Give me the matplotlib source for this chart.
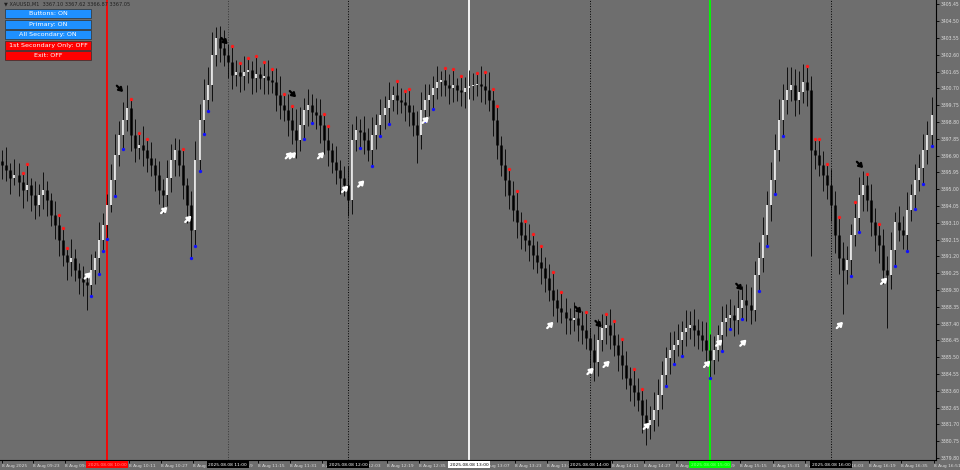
import numpy as np
import matplotlib
matplotlib.use('Agg')
import matplotlib.pyplot as plt
from matplotlib.patches import Rectangle
import matplotlib.transforms as mtransforms

# ---------------- data ----------------
first_open = 3396.6
start_minute = -52          # minutes relative to 10:00 (first bar)
bar_minutes = 2

closes = [
 3396.37, 3396.08, 3395.63, 3395.80, 3395.41, 3394.95, 3395.24, 3394.67, 3394.11, 3394.67,
 3394.95, 3394.39, 3393.54, 3392.97, 3392.13, 3391.28, 3390.88, 3391.11, 3390.43, 3389.98,
 3389.75, 3389.58, 3390.43, 3391.11, 3392.13, 3392.97, 3394.11, 3395.52, 3396.93, 3398.06,
 3398.91, 3399.59, 3398.06, 3397.33, 3397.50, 3397.22, 3396.76, 3396.37, 3395.80, 3394.95,
 3394.67, 3395.63, 3396.65, 3397.22, 3396.37, 3395.24, 3394.11, 3392.69, 3396.65, 3398.91,
 3400.04, 3400.89, 3402.59, 3403.55, 3402.99, 3402.59, 3402.19, 3401.46, 3401.63, 3401.40,
 3401.63, 3401.74, 3401.29, 3401.51, 3401.29, 3401.40, 3401.18, 3401.06, 3400.33, 3399.76,
 3399.48, 3398.91, 3398.35, 3397.78, 3398.63, 3399.48, 3399.76, 3399.37, 3399.20, 3398.63,
 3397.78, 3397.22, 3396.54, 3396.08, 3395.63, 3395.24, 3394.39, 3397.78, 3398.35, 3398.23,
 3397.78, 3397.22, 3398.06, 3398.63, 3399.20, 3399.59, 3400.04, 3400.33, 3400.04, 3399.93,
 3399.76, 3399.37, 3398.63, 3398.06, 3399.48, 3400.04, 3400.33, 3400.72, 3401.06, 3401.18,
 3400.89, 3400.72, 3400.89, 3400.61, 3400.50, 3400.72, 3400.84, 3400.89, 3400.95, 3400.84,
 3400.61, 3400.04, 3398.91, 3397.50, 3396.37, 3395.52, 3394.67, 3393.82, 3393.14, 3392.41,
 3392.13, 3391.84, 3391.28, 3390.88, 3390.54, 3389.98, 3389.30, 3388.73, 3388.28, 3388.05,
 3387.71, 3387.60, 3387.71, 3387.32, 3387.04, 3386.58, 3385.90, 3385.23, 3386.47, 3387.15,
 3387.32, 3386.75, 3386.19, 3385.62, 3385.06, 3384.32, 3383.92, 3383.53, 3383.08, 3382.23,
 3381.66, 3381.94, 3382.51, 3383.36, 3384.49, 3385.45, 3385.90, 3386.19, 3386.47, 3386.92,
 3387.15, 3387.32, 3387.04, 3386.75, 3386.47, 3385.90, 3385.34, 3385.90, 3386.75, 3387.49,
 3387.71, 3387.88, 3387.60, 3388.28, 3388.73, 3388.45, 3388.17, 3390.15, 3391.11, 3392.41,
 3394.11, 3395.52, 3397.22, 3398.91, 3400.04, 3400.61, 3400.89, 3400.04, 3400.50, 3401.06,
 3400.61, 3397.22, 3396.93, 3396.37, 3395.80, 3395.24, 3394.11, 3392.41, 3391.11, 3390.43,
 3390.99, 3392.41, 3393.37, 3394.67, 3395.24, 3394.39, 3393.14, 3392.41, 3391.84, 3390.43,
 3390.15, 3391.56, 3393.14, 3392.69, 3392.41, 3393.82, 3394.67, 3395.52, 3396.20, 3397.22,
 3398.06, 3399.20,
]

upper_wick = [
 .6, 1.0, .4, .9, .7, .5, 1.2, .4, .8, .6,  1.0, .5, .4, .8, .6, .7, .4, 1.1, .5, .4,
 .7, .5, .9, .4, 1.0, .7, .6, .9, 1.2, .8,  1.0, 1.3, .5, .9, .7, 1.1, .6, .9, .4, .8,
 .6, 1.0, .9, .7, .6, .9, .4, .8, 1.1, .9,  1.2, 1.0, 1.3, .6, .7, 1.0, .6, .9, .7, .5,
 .9, .7, .5, 1.0, .4, .8, .9, .6, .8, 1.1,  .6, .9, .8, 1.2, 1.0, .7, .9, .6, .8, .9,
 .6, .8, .4, .9, .6, .7, 1.1, .9, .8, .6,  .9, .7, 1.0, .6, .9, .7, 1.0, .5, .8, .7,
 .6, .9, .4, .8, 1.0, .9, .6, .7, .9, .5,  .7, .6, .9, .4, .8, .6, .9, .7, .6, 1.0,
 .8, 1.0, .6, .8, .5, .9, .6, .8, 1.1, .6,  .8, .9, .6, .8, .9, .6, .8, 1.0, .6, .9,
 .8, .6, .9, .5, .8, 1.0, .6, .9, 1.2, .8,  .6, .9, .8, .6, .9, .8, .6, .9, .8, .6,
 .9, .8, 1.0, .9, .8, .6, 1.0, .8, .9, .6,  1.0, .8, .9, .6, .8, 1.0, .9, .8, .6, .9,
 .8, .9, .6, 1.0, .8, .9, 1.0, .8, .9, 1.0,  .8, 1.0, .9, 1.2, .9, 1.3, 1.0, .9, 1.2, 1.0,
 .9, .8, .6, .9, .8, .6, .9, .8, 1.0, .9,  .8, .6, .9, 1.0, .8, .6, .9, .8, .6, .9,
 .8, 1.0, .6, .9, .8, 1.0, .6, .9, .8, .9,  .8, 1.0,
]

lower_wick = [
 .8, .6, .9, .4, .8, 1.0, .6, .9, .8, .6,  .8, .9, .6, .8, .9, .6, 1.0, .8, .6, .9,
 .8, 1.4, .6, .8, .9, .6, .8, .4, .9, .6,  .8, .6, .9, .8, .6, .9, .8, .6, .9, .8,
 1.0, .6, .8, .9, .6, .8, 1.0, 1.6, .9, .6, .8, .6, .9, .6, .8, .6, .9, .8, .6, .9,
 .8, .6, .9, .8, .6, .9, .8, .6, .9, .8,  .6, .9, .8, 1.0, .6, .8, .9, .6, .8, 1.0,
 .8, .9, .6, .8, .9, .6, .9, .8, .6, .9,  .8, .6, .9, .8, .6, .8, .9, .6, .8, .6,
 .9, .8, .6, 1.6, .8, .6, .9, .8, .6, .8,  .6, .9, .8, .6, .8, .9, .6, .8, .6, .9,
 .8, .6, .9, .8, .6, .9, .8, .6, .9, .8,  .6, .9, .8, .6, .9, .8, .6, .9, .8, .6,
 .9, .8, .6, .9, .8, .6, 1.0, 1.1, .8, .6,  .9, .8, .6, .9, .8, .6, .9, .8, .6, 1.0,
 1.1, .8, .6, .9, .8, .6, .9, .8, .6, .9,  .8, .6, .9, .8, .6, .9, 1.0, .8, .6, .9,
 .8, .6, .9, .8, .6, .9, .8, .6, .9, .8,  .6, .9, .8, .6, .9, .8, .6, .9, .8, .6,
 .9, 6.0, .8, .6, .9, .8, .9, 1.0, .9, 2.5, .8, .9, .6, .8, .9, .6, .8, .9, 1.0, .8,
 3.0, .8, .9, .6, .8, .9, .6, .8, .6, .9,  .8, .6,
]

red_dot_bars = [5, 6, 14, 15, 16, 32, 34, 36, 45, 57, 59, 61, 63, 65, 67, 70, 72, 80, 81,
                98, 100, 101, 110, 112, 114, 118, 120, 122, 123, 126, 128, 130, 132, 134,
                137, 139, 143, 145, 150, 152, 154, 157, 159, 200, 202, 203, 205, 208, 212,
                215, 218]
blue_dot_bars = [22, 24, 25, 26, 28, 30, 47, 48, 49, 50, 51, 75, 77, 89, 92, 94, 96, 105,
                 107, 165, 167, 169, 176, 179, 181, 184, 188, 190, 192, 194, 211, 213, 222,
                 225, 227, 229, 231]

up_arrow_bars = [22, 41, 47, 72, 73, 80, 86, 90, 106, 137, 147, 151, 161, 176, 179, 185, 209, 220]
up_arrow_price = [3390.3, 3394.0, 3393.5, 3397.1, 3397.1, 3397.1, 3395.2, 3395.5, 3399.1,
                  3387.5, 3384.9, 3385.3, 3381.8, 3385.3, 3386.5, 3386.5, 3387.5, 3390.0]
down_arrow_bars = [30, 56, 73, 144, 149, 184, 214]
down_arrow_price = [3400.5, 3403.2, 3400.2, 3388.0, 3387.2, 3389.3, 3396.2]

price_ticks = [3379.80, 3380.75, 3381.70, 3382.65, 3383.60, 3384.55, 3385.50, 3386.45,
               3387.40, 3388.35, 3389.30, 3390.25, 3391.20, 3392.15, 3393.10, 3394.05,
               3395.00, 3395.95, 3396.90, 3397.85, 3398.80, 3399.75, 3400.70, 3401.65,
               3402.60, 3403.55, 3404.50, 3405.45]

time_tick_minutes = [-52, -37, -21, -5, 11, 27, 43, 59, 75, 91, 107, 123, 139, 155, 171,
                     187, 203, 219, 235, 251, 267, 283, 299, 315, 331, 347, 363, 379, 395, 411]
time_tick_labels = ['8 Aug 2025', '8 Aug 09:23', '8 Aug 09:39', '8 Aug 09:55', '8 Aug 10:11',
                    '8 Aug 10:27', '8 Aug 10:43', '8 Aug 10:59', '8 Aug 11:15', '8 Aug 11:31',
                    '8 Aug 11:47', '8 Aug 12:03', '8 Aug 12:19', '8 Aug 12:35', '8 Aug 12:51',
                    '8 Aug 13:07', '8 Aug 13:23', '8 Aug 13:39', '8 Aug 13:55', '8 Aug 14:11',
                    '8 Aug 14:27', '8 Aug 14:43', '8 Aug 14:59', '8 Aug 15:15', '8 Aug 15:31',
                    '8 Aug 15:47', '8 Aug 16:03', '8 Aug 16:19', '8 Aug 16:35', '8 Aug 16:51']

hour_minutes = [0, 60, 120, 180, 240, 300, 360]
hour_labels = ['2025.08.08 10:00', '2025.08.08 11:00', '2025.08.08 12:00', '2025.08.08 13:00',
               '2025.08.08 14:00', '2025.08.08 15:00', '2025.08.08 16:00']
hour_line_colors = ['#ff0000', '#3a3a3a', '#000000', '#ffffff', '#000000', '#00ff00', '#000000']
hour_line_styles = ['-', ':', ':', '-', ':', '-', ':']
hour_box_colors = ['#ff0000', '#000000', '#000000', '#ffffff', '#000000', '#00ff00', '#000000']
hour_text_colors = ['#ff9090', '#ffffff', '#ffffff', '#000000', '#ffffff', '#90ff90', '#ffffff']

buttons = ['Buttons: ON', 'Primary: ON', 'All Secondary: ON', '1st Secondary Only: OFF', 'Exit: OFF']
button_colors = ['#1e90ff', '#1e90ff', '#1e90ff', '#ff0000', '#ff0000']

header = '\u25bc XAUUSD,M1  3367.10 3367.62 3366.87 3367.05'

# ---------------- derived ----------------
closes = np.array(closes)
opens = np.concatenate([[first_open], closes[:-1]])
highs = np.maximum(opens, closes) + np.array(upper_wick)
lows = np.minimum(opens, closes) - np.array(lower_wick)
t = start_minute + bar_minutes * np.arange(len(closes))

BG = '#6e6e6e'
W, H = 960, 470
fig = plt.figure(figsize=(W / 100, H / 100), dpi=100, facecolor=BG)
plot_right = 936
plot_bottom = 460
ax = fig.add_axes([0, (H - plot_bottom) / H, plot_right / W, plot_bottom / H], facecolor=BG)

px_per_min = 2.011
x0_px = 107
ax.set_xlim(-x0_px / px_per_min, (plot_right - x0_px) / px_per_min)
y_top_price = 3405.70
px_per_dollar = 16.8 / 0.95
ax.set_ylim(y_top_price - plot_bottom / px_per_dollar, y_top_price)

for s in ['top', 'left']:
    ax.spines[s].set_visible(False)
for s in ['right', 'bottom']:
    ax.spines[s].set_color('black')
    ax.spines[s].set_linewidth(0.8)

# hour separator lines
for m, c, ls in zip(hour_minutes, hour_line_colors, hour_line_styles):
    lw = 1.3 if ls == '-' else 0.7
    ax.axvline(m, color=c, ls=ls, lw=lw, zorder=1)

# candles
bull = closes >= opens
ax.vlines(t, lows, highs, color='black', lw=0.6, zorder=2)
ax.vlines(t[bull], opens[bull], closes[bull], color='white', lw=1.2, zorder=3)
ax.vlines(t[~bull], opens[~bull], closes[~bull], color='black', lw=1.8, zorder=3)

# dots
rb = np.array(red_dot_bars)
bb = np.array(blue_dot_bars)
ax.plot(t[rb], highs[rb], 'o', color='#ff1a1a', ms=2.4, mew=0, zorder=4)
ax.plot(t[bb], lows[bb], 'o', color='#1010ff', ms=2.4, mew=0, zorder=4)

# arrows (signal markers)
for b, p in zip(up_arrow_bars, up_arrow_price):
    ax.annotate('', xy=(t[b], p), xytext=(-4.5, -4.5), textcoords='offset points',
                arrowprops=dict(arrowstyle='-|>,head_length=0.45,head_width=0.3',
                                color='white', lw=1.6, mutation_scale=5,
                                shrinkA=0, shrinkB=0), zorder=5)
for b, p in zip(down_arrow_bars, down_arrow_price):
    ax.annotate('', xy=(t[b], p), xytext=(-4.5, 4.5), textcoords='offset points',
                arrowprops=dict(arrowstyle='-|>,head_length=0.45,head_width=0.3',
                                color='black', lw=1.6, mutation_scale=5,
                                shrinkA=0, shrinkB=0), zorder=5)

# axes ticks
ax.yaxis.tick_right()
ax.set_yticks(price_ticks)
ax.set_yticklabels([f'{v:.2f}' for v in price_ticks])
ax.tick_params(axis='y', colors='black', labelcolor='#dcdcdc', labelsize=3.3,
               length=2.0, width=0.6, pad=1.2)
ax.set_xticks(time_tick_minutes)
ax.set_xticklabels(time_tick_labels)
ax.tick_params(axis='x', colors='black', labelcolor='#dcdcdc', labelsize=3.2,
               length=2.0, width=0.6, pad=0.9)
for lab in ax.get_xticklabels():
    lab.set_ha('left')

# hour label boxes on time axis
trans = mtransforms.blended_transform_factory(ax.transData, ax.transAxes)
for m, lab, bc, tc in zip(hour_minutes, hour_labels, hour_box_colors, hour_text_colors):
    ax.text(m, -4.6 / plot_bottom, lab, transform=trans, ha='center', va='center',
            fontsize=3.2, color=tc, clip_on=False, zorder=10,
            bbox=dict(boxstyle='square,pad=0.35', fc=bc, ec='none'))

# overlay for buttons / header (pixel coordinates)
ov = fig.add_axes([0, 0, 1, 1], facecolor='none')
ov.set_xlim(0, W)
ov.set_ylim(H, 0)
ov.axis('off')
ov.text(4, 3.5, header, fontsize=3.6, color='#202020', ha='left', va='center')
btn_top = [9, 19.5, 30, 40.5, 51]
for top, label, col in zip(btn_top, buttons, button_colors):
    ov.add_patch(Rectangle((5, top), 86, 9, fc=col, ec='#303030', lw=0.5))
    ov.text(48, top + 4.7, label, fontsize=4.6, color='white', ha='center', va='center')

fig.savefig('out.png', dpi=100, facecolor=BG)
